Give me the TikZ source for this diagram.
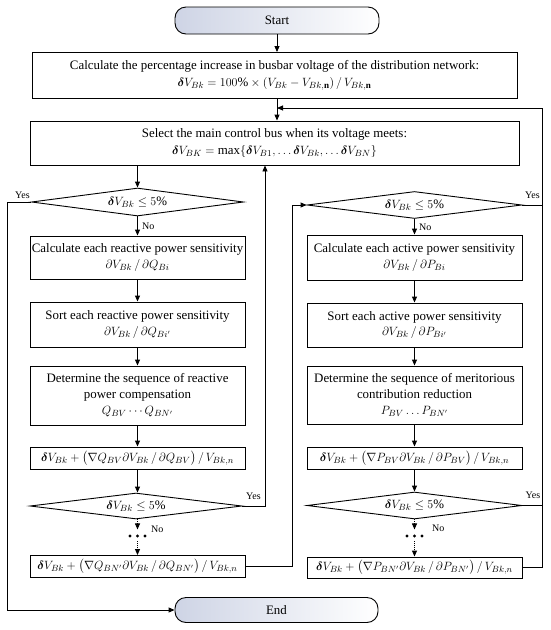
\documentclass[tikz,border=0pt]{standalone}
\usepackage{amsmath}
\usepackage{fontspec}
\setmainfont{Liberation Serif}
\usetikzlibrary{shapes.geometric,arrows.meta,calc}
\newcommand{\myDV}{\boldsymbol{\delta}V}
\definecolor{termgray}{RGB}{206,212,229}
\begin{document}
\begin{tikzpicture}[x=1pt,y=-1pt,
  every node/.style={font=\fontsize{12.9}{15.5}\selectfont},
  box/.style={draw, line width=0.9pt, rectangle, align=center, inner sep=1pt},
  colbox/.style={box, minimum width=215pt},
  dec/.style={draw, line width=0.9pt, diamond, aspect=8, inner sep=0pt},
  term/.style={draw, line width=0.9pt, rounded corners=11pt, left color=termgray, middle color=white, right color=white},
  arr/.style={line width=0.9pt, -{Triangle[length=6pt,width=5pt]}},
  ln/.style={line width=0.9pt},
  lbl/.style={font=\fontsize{10}{12}\selectfont, inner sep=0pt}]
\useasboundingbox (0,0) rectangle (550,630);

% terminals
\node[term, minimum width=204pt, minimum height=27pt] (start) at (277,20.5) {Start};
\node[term, minimum width=203pt, minimum height=25pt] (end) at (276.5,610) {End};

% top boxes
\node[box, minimum width=485pt, minimum height=46pt] (b1) at (274.5,75.5)
 {Calculate the percentage increase in busbar voltage of the distribution network:\\[1pt]
  $\myDV_{Bk}=100\%\times(V_{Bk}-V_{Bk,\mathbf{n}})\,/\,V_{Bk,\mathbf{n}}$};
\node[box, minimum width=489pt, minimum height=44pt] (b2) at (274.5,143)
 {Select the main control bus when its voltage meets:\\[2pt]
  $\myDV_{BK}=\max\{\myDV_{B1},\ldots\myDV_{Bk},\ldots\myDV_{BN}\}$};

% left column
\node[dec, minimum width=212pt, minimum height=28pt] (ld1) at (137.5,202) {$\myDV_{Bk}\le 5\%$};
\node[colbox, minimum height=43pt] (l1) at (137.5,257.5)
 {Calculate each reactive power sensitivity\\ $\partial V_{Bk}\,/\,\partial Q_{Bi}$};
\node[colbox, minimum height=45pt] (l2) at (137.5,324.5)
 {Sort each reactive power sensitivity\\ $\partial V_{Bk}\,/\,\partial Q_{Bi'}$};
\node[colbox, minimum height=59pt] (l3) at (137.5,395.5)
 {Determine the sequence of reactive\\ power compensation\\[1pt] $Q_{BV}\cdots Q_{BN'}$};
\node[colbox, minimum height=22pt] (l4) at (137.5,458)
 {$\myDV_{Bk}+\bigl(\nabla Q_{BV}\partial V_{Bk}\,/\,\partial Q_{BV}\bigr)\,/\,V_{Bk,n}$};
\node[dec, minimum width=212pt, minimum height=26pt] (ld2) at (136,506) {$\myDV_{Bk}\le 5\%$};
\node[colbox, minimum height=22pt] (l5) at (137.5,566.5)
 {$\myDV_{Bk}+\bigl(\nabla Q_{BN'}\partial V_{Bk}\,/\,\partial Q_{BN'}\bigr)\,/\,V_{Bk,n}$};

% right column
\node[dec, minimum width=215pt, minimum height=27pt] (rd1) at (414.5,205) {$\myDV_{Bk}\le 5\%$};
\node[colbox, minimum height=45pt] (r1) at (414.5,257.5)
 {Calculate each active power sensitivity\\ $\partial V_{Bk}\,/\,\partial P_{Bi}$};
\node[colbox, minimum height=44pt] (r2) at (414.5,325)
 {Sort each active power sensitivity\\ $\partial V_{Bk}\,/\,\partial P_{Bi'}$};
\node[colbox, minimum height=58pt] (r3) at (414.5,395)
 {Determine the sequence of meritorious\\ contribution reduction\\[1pt] $P_{BV}\ldots P_{BN'}$};
\node[colbox, minimum height=22pt] (r4) at (414.5,458)
 {$\myDV_{Bk}+\bigl(\nabla P_{BV}\partial V_{Bk}\,/\,\partial P_{BV}\bigr)\,/\,V_{Bk,n}$};
\node[dec, minimum width=215pt, minimum height=27pt] (rd2) at (414.5,505.5) {$\myDV_{Bk}\le 5\%$};
\node[colbox, minimum height=21pt] (r5) at (414.5,567.5)
 {$\myDV_{Bk}+\bigl(\nabla P_{BN'}\partial V_{Bk}\,/\,\partial P_{BN'}\bigr)\,/\,V_{Bk,n}$};

% helper coordinates
\coordinate (fb) at (542,108);
\coordinate (lft) at (7,0);
\coordinate (mida) at (265,0);
\coordinate (midb) at (292,0);

% main flow
\draw[arr] (start.south) -- (start.south |- b1.north);
\draw[arr] (b1.south -| start.south) -- (start.south |- b2.north);
\draw[arr] (b2.south -| ld1.north) -- (ld1.north);
\draw[arr] (ld1.south) -- (l1.north);
\draw[arr] (l1) -- (l2);
\draw[arr] (l2) -- (l3);
\draw[arr] (l3) -- (l4);
\draw[arr] (l4.south) -- (ld2.north -| l4.south);
\draw[arr, densely dotted] (ld2.south -| l5.north) -- ++(0,10);
\fill (130,536) circle (1.6pt) (137.5,536) circle (1.6pt) (145,536) circle (1.6pt);
\draw[arr, densely dotted] (137.5,541) -- (l5.north);

\draw[arr] (rd1.south) -- (r1.north);
\draw[arr] (r1) -- (r2);
\draw[arr] (r2) -- (r3);
\draw[arr] (r3) -- (r4);
\draw[arr] (r4) -- (rd2);
\draw[arr, densely dotted] (rd2.south) -- ++(0,10);
\fill (407,536) circle (1.6pt) (414.5,536) circle (1.6pt) (422,536) circle (1.6pt);
\draw[arr, densely dotted] (414.5,541) -- (r5.north);

% loops
\draw[arr] (ld1.west) -- (ld1.west -| lft) -- (lft |- end.west) -- (end.west);
\draw[arr] (ld2.east) -- (ld2.east -| mida) -- (mida |- b2.south);
\draw[arr] (l5.east) -- (l5.east -| midb) -- (midb |- rd1.west) -- (rd1.west);
\draw[arr] (r5.east) -- (r5.east -| fb) -- (fb) -- (fb -| start.south);
\draw[ln] (rd1.east) -- (rd1.east -| fb);
\draw[ln] (rd2.east) -- (rd2.east -| fb);

% labels
\node[lbl] (y1) at (22.5,195) {Yes};
\node[lbl] (y2) at (532.5,195) {Yes};
\node[lbl] (y3) at (253.5,496) {Yes};
\node[lbl] (y4) at (533,495) {Yes};
\node[lbl, anchor=west] (n1) at (142,226) {No};
\node[lbl, anchor=west] (n2) at (419,227) {No};
\node[lbl, anchor=west] (n3) at (151,529) {No};
\node[lbl, anchor=west] (n4) at (432,528) {No};
\end{tikzpicture}
\end{document}
